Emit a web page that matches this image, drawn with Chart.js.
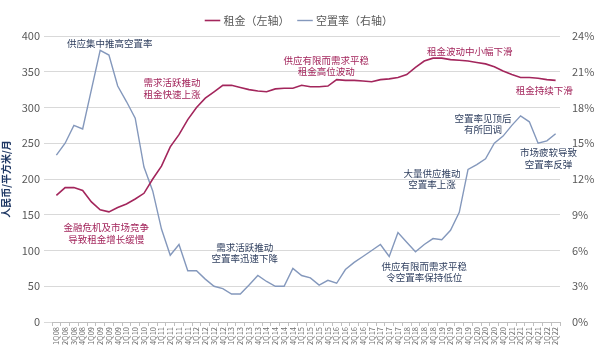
<!DOCTYPE html>
<html>
<head>
<meta charset="utf-8">
<title>租金与空置率</title>
<script src="https://cdn.jsdelivr.net/npm/chart.js"></script>
<style>
  html, body { margin: 0; padding: 0; background: #fff; }
  #wrap { width: 600px; height: 362px; }
</style>
</head>
<body>
<div id="wrap"><canvas id="rentChart"></canvas></div>
<script>
// quarters 1Q08 .. 2Q22
var quarters = [];
for (var yr = 8; yr <= 22; yr++) {
  for (var q = 1; q <= 4; q++) {
    if (yr === 22 && q > 2) break;
    quarters.push(q + 'Q' + (yr < 10 ? '0' + yr : yr));
  }
}

// 租金 (人民币/平方米/月), left axis
var rent = [177, 188, 188, 184, 168, 157, 154, 160, 165, 172, 180, 200,
            218, 245, 262, 283, 300, 313, 322, 331, 331, 328, 325, 323,
            322, 326, 327, 327, 331, 329, 329, 330, 339, 338, 338, 337,
            336, 339, 340, 342, 346, 356, 365, 369, 369, 367, 366, 365,
            363, 361, 357, 351, 346, 342, 342, 341, 339, 338];

// 空置率 (%), right axis
var vacancy = [14.0, 15.0, 16.5, 16.2, 19.5, 22.8, 22.4, 19.8, 18.5, 17.1, 13.0, 11.0,
               7.8, 5.6, 6.5, 4.3, 4.3, 3.6, 3.0, 2.8, 2.35, 2.35, 3.1, 3.9,
               3.4, 3.0, 3.0, 4.5, 3.9, 3.7, 3.1, 3.5, 3.25, 4.4, 5.0, 5.5,
               6.0, 6.5, 5.5, 7.5, 6.7, 5.9, 6.5, 7.0, 6.9, 7.7, 9.2, 12.8,
               13.2, 13.7, 15.0, 15.6, 16.5, 17.3, 16.8, 15.0, 15.2, 15.8];

var RENT_COLOR = '#a3265c';
var VAC_COLOR = '#8498bc';
var NAVY = '#2f3f5f';

// callouts, anchored to (quarter index, left-axis value)
var notes = [
  { lines: ['供应集中推高空置率'], at: 6.1, val: 390, color: NAVY },
  { lines: ['需求活跃推动', '租金快速上涨'], at: 13.2, val: 327, color: RENT_COLOR },
  { lines: ['金融危机及市场竞争', '导致租金增长缓慢'], at: 5.7, val: 124, color: RENT_COLOR },
  { lines: ['需求活跃推动', '空置率迅速下降'], at: 21.5, val: 97, color: NAVY },
  { lines: ['供应有限而需求平稳', '租金高位波动'], at: 30.8, val: 358, color: RENT_COLOR },
  { lines: ['租金波动中小幅下滑'], at: 47.2, val: 379, color: RENT_COLOR },
  { lines: ['租金持续下滑'], at: 55.7, val: 324, color: RENT_COLOR },
  { lines: ['空置率见顶后', '有所回调'], at: 48.7, val: 277, color: NAVY },
  { lines: ['市场疲软导致', '空置率反弹'], at: 56.2, val: 229, color: NAVY },
  { lines: ['大量供应推动', '空置率上涨'], at: 42.9, val: 200, color: NAVY },
  { lines: ['供应有限而需求平稳', '令空置率保持低位'], at: 42, val: 70, color: NAVY }
];

var FONT = '"Noto Sans CJK SC", "Liberation Sans", sans-serif';

var notePlugin = {
  id: 'notes',
  afterDatasetsDraw: function(chart) {
    var ctx = chart.ctx, xs = chart.scales.x, ys = chart.scales.y;
    ctx.save();
    ctx.font = '9.5px ' + FONT;
    ctx.textAlign = 'center';
    ctx.textBaseline = 'middle';
    notes.forEach(function(n) {
      var cx = xs.getPixelForValue(n.at);
      var cy = ys.getPixelForValue(n.val);
      var lh = 11.5;
      var top = cy - (n.lines.length - 1) * lh / 2;
      ctx.fillStyle = n.color;
      n.lines.forEach(function(t, k) { ctx.fillText(t, cx, top + k * lh); });
    });
    ctx.restore();
  }
};

Chart.defaults.font.family = FONT;
Chart.defaults.color = '#595959';

var ctxRent = document.getElementById('rentChart').getContext('2d');
var rentChart = new Chart(ctxRent, {
  type: 'line',
  data: {
    labels: quarters,
    datasets: [{
      label: '租金（左轴）',
      data: rent,
      yAxisID: 'y',
      borderColor: RENT_COLOR,
      backgroundColor: RENT_COLOR,
      borderWidth: 1.6,
      pointRadius: 0,
      tension: 0
    }, {
      label: '空置率（右轴）',
      data: vacancy,
      yAxisID: 'y1',
      borderColor: VAC_COLOR,
      backgroundColor: VAC_COLOR,
      borderWidth: 1.4,
      pointRadius: 0,
      tension: 0
    }]
  },
  options: {
    responsive: true,
    maintainAspectRatio: false,
    animation: false,
    layout: { padding: { top: 5, bottom: 0, left: 0, right: 0 } },
    plugins: {
      legend: {
        position: 'top',
        labels: {
          usePointStyle: true,
          pointStyle: 'line',
          boxWidth: 18,
          padding: 10,
          color: '#595959',
          font: { size: 11 }
        }
      },
      tooltip: { enabled: false }
    },
    scales: {
      x: {
        offset: true,
        grid: { drawOnChartArea: false, drawTicks: true, tickLength: 4, color: '#bfbfbf', offset: true },
        border: { display: true, color: '#bfbfbf' },
        ticks: { autoSkip: false, maxRotation: 90, minRotation: 90, font: { size: 7.5 }, padding: 1, color: '#6f6f6f' },
        afterFit: function(s) { s.height = 40; }
      },
      y: {
        position: 'left',
        min: 0, max: 400,
        ticks: { stepSize: 50, font: { size: 11 }, padding: 4 },
        grid: { color: '#d9d9d9', tickLength: 8 },
        border: { display: false },
        title: {
          display: true,
          text: '人民币/平方米/月',
          color: '#1f3864',
          font: { size: 10, weight: 'bold' },
          padding: 0
        },
        afterFit: function(s) { s.width = 52; }
      },
      y1: {
        position: 'right',
        min: 0, max: 24,
        ticks: { stepSize: 3, font: { size: 11 }, padding: 12, callback: function(v) { return v + '%'; } },
        grid: { drawOnChartArea: false, drawTicks: false },
        border: { display: false },
        afterFit: function(s) { s.width = 40; }
      }
    }
  },
  plugins: [notePlugin]
});
</script>
</body>
</html>
